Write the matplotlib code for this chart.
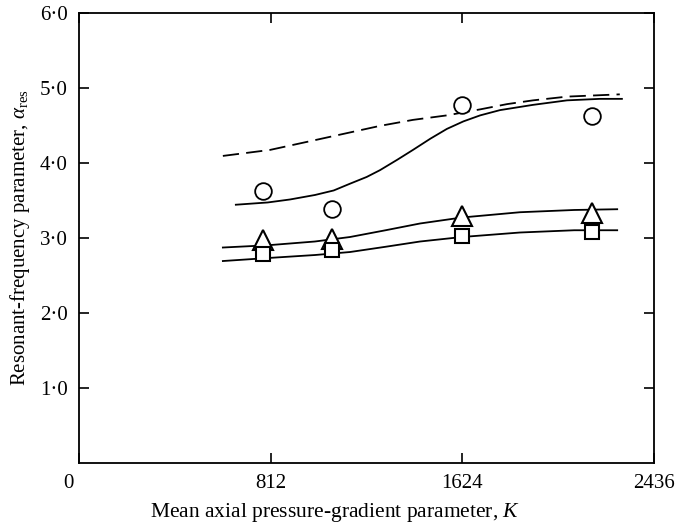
import matplotlib
matplotlib.use("Agg")
import matplotlib.pyplot as plt
from matplotlib.transforms import ScaledTranslation

plt.rcParams['font.family'] = ['Liberation Serif', 'DejaVu Serif']
plt.rcParams['mathtext.fontset'] = 'custom'
plt.rcParams['mathtext.rm'] = 'Liberation Serif'
plt.rcParams['mathtext.it'] = 'Liberation Serif:italic'

# measured points
k_pts = [780, 1073, 1624, 2175]
circle_y = [3.62, 3.38, 4.77, 4.62]
triangle_y = [2.97, 2.98, 3.29, 3.33]
square_y = [2.79, 2.84, 3.02, 3.08]

# curves
dash_k = [610, 810, 1000, 1276, 1416, 1560, 1701, 1815, 1925, 2070, 2293]
dash_y = [4.09, 4.17, 4.30, 4.49, 4.57, 4.63, 4.71, 4.78, 4.83, 4.88, 4.91]

circ_k = [665, 800, 895, 1001, 1080, 1149, 1220, 1276, 1350, 1416, 1490, 1560,
          1630, 1701, 1785, 1925, 2069, 2209, 2302]
circ_y = [3.44, 3.47, 3.51, 3.57, 3.63, 3.72, 3.81, 3.90, 4.04, 4.17, 4.32, 4.45,
          4.55, 4.63, 4.70, 4.77, 4.83, 4.85, 4.85]

tri_k = [610, 800, 1000, 1149, 1300, 1446, 1624, 1870, 2100, 2282]
tri_y = [2.87, 2.90, 2.95, 3.01, 3.10, 3.19, 3.27, 3.34, 3.37, 3.38]

sq_k = [610, 800, 1000, 1149, 1300, 1446, 1624, 1870, 2100, 2282]
sq_y = [2.69, 2.73, 2.77, 2.81, 2.88, 2.95, 3.01, 3.07, 3.10, 3.10]

xticks = [0, 812, 1624, 2436]
yticks = [1, 2, 3, 4, 5, 6]
ytick_labels = ['1·0', '2·0', '3·0', '4·0', '5·0', '6·0']

fig = plt.figure(figsize=(6.77, 5.28), dpi=100)
ax = fig.add_axes([0.1167, 0.1231, 0.8486, 0.8532])

lw = 1.3
ax.plot(dash_k, dash_y, color='black', lw=lw, dashes=(9, 4))
ax.plot(circ_k, circ_y, color='black', lw=lw)
ax.plot(tri_k, tri_y, color='black', lw=lw)
ax.plot(sq_k, sq_y, color='black', lw=lw)

ax.plot(k_pts, circle_y, 'o', ms=12, mfc='white', mec='black', mew=1.3, zorder=5)
ax.plot(k_pts, triangle_y, '^', ms=15, mfc='white', mec='black', mew=1.5, zorder=5)
ax.plot(k_pts, square_y, 's', ms=10, mfc='white', mec='black', mew=1.5, zorder=6)

ax.set_xlim(0, 2436)
ax.set_ylim(0, 6)
ax.set_xticks(xticks)
ax.set_xticklabels([str(t) for t in xticks])
ax.set_yticks(yticks)
ax.set_yticklabels(ytick_labels)
ax.tick_params(direction='in', length=7, width=1.2, top=True, right=True,
               labelsize=15, pad=8)
for s in ax.spines.values():
    s.set_linewidth(1.3)

# the zero at the corner sits a little left of the axis
lab0 = ax.get_xticklabels()[0]
lab0.set_transform(lab0.get_transform() + ScaledTranslation(-0.11, 0, fig.dpi_scale_trans))

ax.set_xlabel('Mean axial pressure-gradient parameter, $K$', fontsize=15.5, labelpad=8)
ax.xaxis.set_label_coords(0.446, -0.085)
ax.set_ylabel(r'Resonant-frequency parameter, $\alpha_{\rm res}$', fontsize=15, labelpad=6)

fig.savefig('out.png', dpi=100)
